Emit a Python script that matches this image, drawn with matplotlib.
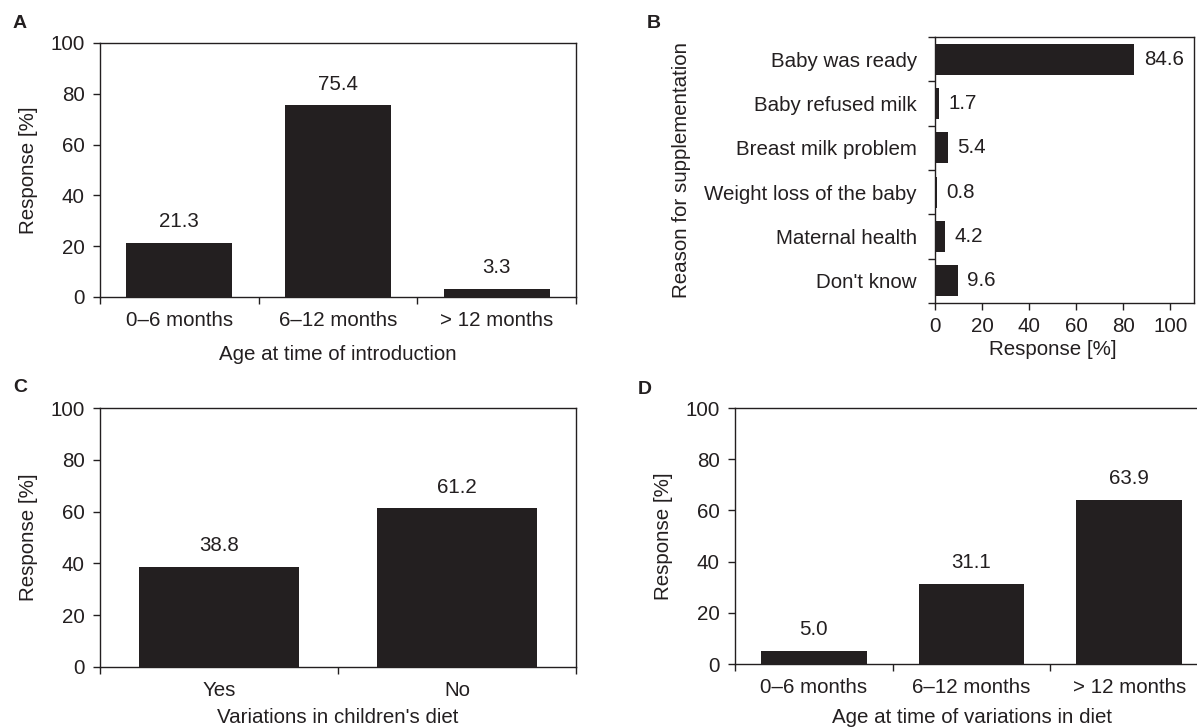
import numpy as np
import matplotlib
matplotlib.use("Agg")
import matplotlib.pyplot as plt

plt.rcParams['font.family'] = ['Liberation Sans', 'DejaVu Sans']
plt.rcParams['font.size'] = 14.8
TXT = '#231f20'
BAR = '#231f20'
plt.rcParams['text.color'] = TXT
plt.rcParams['axes.labelcolor'] = TXT
plt.rcParams['xtick.color'] = TXT
plt.rcParams['ytick.color'] = TXT
plt.rcParams['axes.edgecolor'] = TXT
plt.rcParams['axes.linewidth'] = 1.0

# ---- data ----
intro_ages = ["0–6 months", "6–12 months", "> 12 months"]
intro_values = [21.3, 75.4, 3.3]

reasons = ["Baby was ready", "Baby refused milk", "Breast milk problem",
           "Weight loss of the baby", "Maternal health", "Don't know"]
reason_values = [84.6, 1.7, 5.4, 0.8, 4.2, 9.6]

variation_cats = ["Yes", "No"]
variation_values = [38.8, 61.2]

variation_ages = ["0–6 months", "6–12 months", "> 12 months"]
variation_age_values = [5.0, 31.1, 63.9]

W, H = 1197, 727
fig = plt.figure(figsize=(W / 100, H / 100), dpi=100)


def px_axes(l, r, t, b):
    return fig.add_axes([l / W, 1 - b / H, (r - l) / W, (b - t) / H])


def vbar(ax, cats, vals, xlabel, xlab_y, ylab_x):
    x = np.arange(len(cats))
    ax.bar(x, vals, width=0.67, color=BAR)
    ax.set_xlim(-0.5, len(cats) - 0.5)
    ax.set_ylim(0, 100)
    ax.set_yticks(np.arange(0, 101, 20))
    ax.set_xticks(x)
    ax.set_xticklabels(cats)
    ax.set_xticks(np.arange(len(cats) + 1) - 0.5, minor=True)
    ax.tick_params(axis='x', which='major', length=0, pad=10)
    ax.tick_params(axis='x', which='minor', length=5, width=1.0, direction='out')
    ax.tick_params(axis='y', length=5, width=1.0, direction='out', pad=6)
    for xi, v in zip(x, vals):
        ax.annotate(f"{v:.1f}", (xi, v), xytext=(0, 11.5), textcoords='offset points',
                    ha='center', va='baseline')
    ax.set_xlabel(xlabel)
    ax.set_ylabel("Response [%]")
    ax.xaxis.set_label_coords(0.5, xlab_y)
    ax.yaxis.set_label_coords(ylab_x, 0.5)


# Panel A
axA = px_axes(100, 576, 43, 297)
vbar(axA, intro_ages, intro_values, "Age at time of introduction", -0.189, -0.130)

# Panel B
axB = px_axes(935, 1194, 37, 303)
y = np.arange(len(reasons))
axB.barh(y, reason_values, height=0.7, color=BAR)
axB.set_ylim(len(reasons) - 0.5, -0.5)
axB.set_xlim(0, 110)
axB.set_xticks(np.arange(0, 101, 20))
axB.set_yticks(y)
axB.set_yticklabels(reasons)
axB.set_yticks(np.arange(len(reasons) + 1) - 0.5, minor=True)
axB.tick_params(axis='y', which='major', length=0, pad=13)
axB.tick_params(axis='y', which='minor', length=5, width=1.0, direction='out')
axB.tick_params(axis='x', length=5, width=1.0, direction='out', pad=5)
for yi, v in zip(y, reason_values):
    axB.annotate(f"{v:.1f}", (v, yi), xytext=(7, 0), textcoords='offset points',
                 ha='left', va='center')
axB.set_xlabel("Response [%]")
axB.set_ylabel("Reason for supplementation")
axB.xaxis.set_label_coords(50 / 110, -0.139)
axB.yaxis.set_label_coords(-0.942, 0.5)

# Panel C
axC = px_axes(100, 576, 408, 667)
vbar(axC, variation_cats, variation_values, "Variations in children's diet", -0.158, -0.130)

# Panel D
axD = px_axes(735, 1208, 408, 664)
vbar(axD, variation_ages, variation_age_values, "Age at time of variations in diet", -0.172, -0.131)

# panel letters
for letter, (lx, ly) in {"A": (13, 24), "B": (647, 24), "C": (13, 388), "D": (638, 389)}.items():
    fig.text(lx / W, 1 - ly / H, letter, ha='left', va='center', fontweight='bold', fontsize=14)

fig.savefig("out.png", dpi=100)
